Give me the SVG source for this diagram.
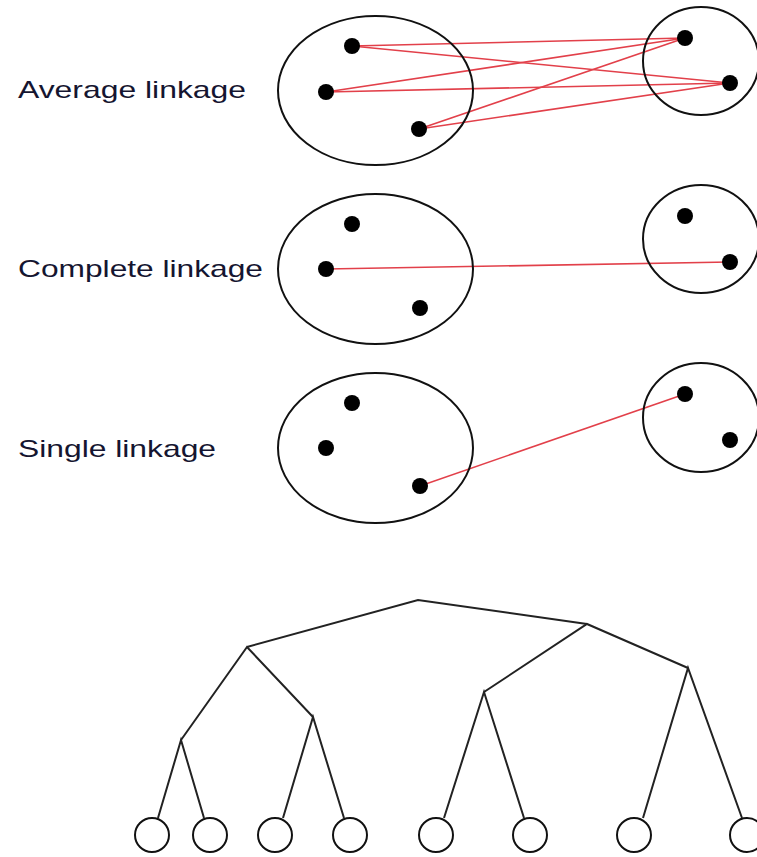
<svg xmlns="http://www.w3.org/2000/svg" width="757" height="857" viewBox="0 0 757 857">
<style>
.lbl{font-family:"Liberation Sans",Arial,sans-serif;font-size:24px;fill:#151530;}
.cl{fill:none;stroke:#111;stroke-width:2;}
.dot{fill:#000;}
.link{stroke:#e2404a;stroke-width:1.6;fill:none;}
.tree{stroke:#222;stroke-width:2;fill:none;}
.leaf{fill:#fff;stroke:#111;stroke-width:2;}
</style>
<rect width="757" height="857" fill="#fff"/>
<g id="connectors">
<g id="avg-links">
<line class="link" x1="352" y1="46" x2="685" y2="38"/>
<line class="link" x1="352" y1="46" x2="730" y2="83"/>
<line class="link" x1="326" y1="92" x2="685" y2="38"/>
<line class="link" x1="326" y1="92" x2="730" y2="83"/>
<line class="link" x1="419" y1="129" x2="685" y2="38"/>
<line class="link" x1="419" y1="129" x2="730" y2="83"/>
</g>
<line id="complete-link" class="link" x1="326" y1="269" x2="730" y2="262"/>
<line id="single-link" class="link" x1="420" y1="486" x2="685" y2="394"/>
<g id="dendrogram-lines">
<polyline class="tree" points="247,647 418,600 587,624"/>
<polyline class="tree" points="181,740 247,647 313,717"/>
<polyline class="tree" points="484,692 587,624 688,668"/>
<polyline class="tree" points="158,818 181,740 204,818"/>
<polyline class="tree" points="283,818 313,717 344,818"/>
<polyline class="tree" points="444,818 484,692 524,818"/>
<polyline class="tree" points="643,818 688,668 742,818"/>
</g>
</g>
<g id="average">
<text class="lbl" x="18" y="98" textLength="228" lengthAdjust="spacingAndGlyphs">Average linkage</text>
<ellipse class="cl" cx="375.5" cy="90.5" rx="97.5" ry="74.5"/>
<ellipse class="cl" cx="701" cy="61" rx="58" ry="54"/>
<circle class="dot" cx="352" cy="46" r="8"/>
<circle class="dot" cx="326" cy="92" r="8"/>
<circle class="dot" cx="419" cy="129" r="8"/>
<circle class="dot" cx="685" cy="38" r="8"/>
<circle class="dot" cx="730" cy="83" r="8"/>
</g>
<g id="complete">
<text class="lbl" x="18" y="277" textLength="245" lengthAdjust="spacingAndGlyphs">Complete linkage</text>
<ellipse class="cl" cx="375.5" cy="269" rx="97.5" ry="75"/>
<ellipse class="cl" cx="701" cy="239" rx="58" ry="54"/>
<circle class="dot" cx="352" cy="224" r="8"/>
<circle class="dot" cx="326" cy="269" r="8"/>
<circle class="dot" cx="420" cy="308" r="8"/>
<circle class="dot" cx="685" cy="216" r="8"/>
<circle class="dot" cx="730" cy="262" r="8"/>
</g>
<g id="single">
<text class="lbl" x="18" y="457" textLength="198" lengthAdjust="spacingAndGlyphs">Single linkage</text>
<ellipse class="cl" cx="375.5" cy="448" rx="97.5" ry="75"/>
<ellipse class="cl" cx="701" cy="417.5" rx="58" ry="54.5"/>
<circle class="dot" cx="352" cy="403" r="8"/>
<circle class="dot" cx="326" cy="448" r="8"/>
<circle class="dot" cx="420" cy="486" r="8"/>
<circle class="dot" cx="685" cy="394" r="8"/>
<circle class="dot" cx="730" cy="440" r="8"/>
</g>
<g id="leaves">
<circle id="leaf1" class="leaf" cx="152" cy="835" r="17"/>
<circle id="leaf2" class="leaf" cx="210" cy="835" r="17"/>
<circle id="leaf3" class="leaf" cx="275" cy="835" r="17"/>
<circle id="leaf4" class="leaf" cx="350" cy="835" r="17"/>
<circle id="leaf5" class="leaf" cx="436" cy="835" r="17"/>
<circle id="leaf6" class="leaf" cx="530" cy="835" r="17"/>
<circle id="leaf7" class="leaf" cx="634" cy="835" r="17"/>
<circle id="leaf8" class="leaf" cx="747" cy="835" r="17"/>
</g>
</svg>
